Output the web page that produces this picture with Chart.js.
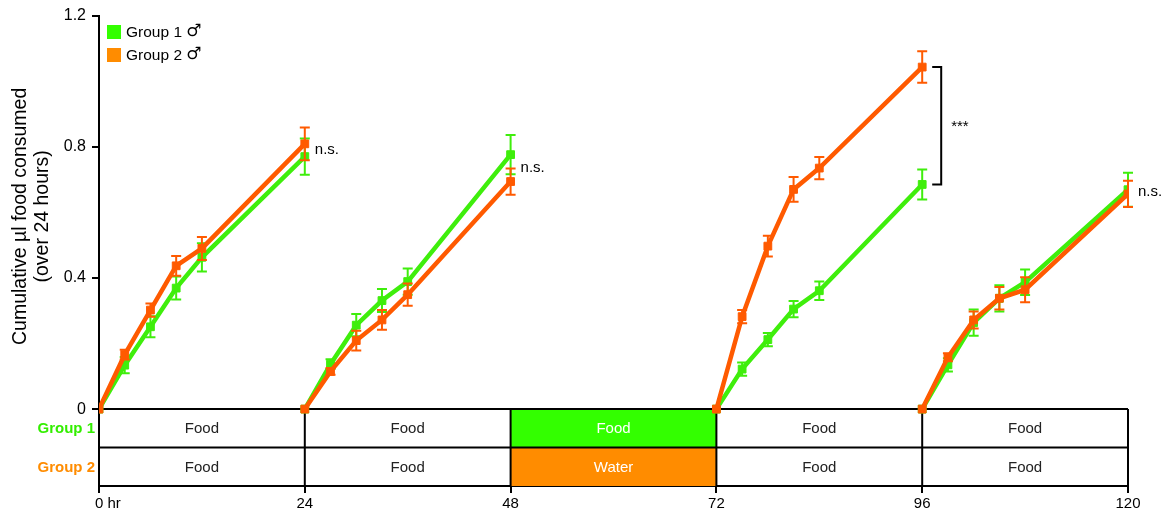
<!DOCTYPE html>
<html>
<head>
<meta charset="utf-8">
<script src="https://cdn.jsdelivr.net/npm/chart.js@4.4.0/dist/chart.umd.min.js"></script>
<style>
  html, body { margin: 0; padding: 0; background: #fff; }
</style>
</head>
<body>
<canvas id="food-chart" width="1168" height="513"></canvas>
<script>
// Sampling times (hours); each 24 h session starts again from 0
const timeHours    = [0, 3, 6, 9, 12, 24,  24, 27, 30, 33, 36, 48,  72, 75, 78, 81, 84, 96,  96, 99, 102, 105, 108, 120];
const sessionStart = [0, 6, 12, 18];

const group1Mean = [0, 0.134, 0.251, 0.369, 0.463, 0.770,  0, 0.137, 0.256, 0.331, 0.389, 0.776,  0, 0.122, 0.212, 0.305, 0.361, 0.685,  0, 0.135, 0.264, 0.338, 0.387, 0.669];
const group1Err  = [0, 0.025, 0.032, 0.035, 0.043, 0.055,  0, 0.015, 0.034, 0.035, 0.040, 0.060,  0, 0.020, 0.020, 0.025, 0.028, 0.046,  0, 0.020, 0.040, 0.040, 0.039, 0.052];
const group2Mean = [0, 0.166, 0.302, 0.437, 0.490, 0.809,  0, 0.115, 0.209, 0.272, 0.349, 0.694,  0, 0.282, 0.497, 0.670, 0.735, 1.043,  0, 0.158, 0.272, 0.338, 0.364, 0.656];
const group2Err  = [0, 0.015, 0.020, 0.030, 0.035, 0.050,  0, 0.010, 0.030, 0.030, 0.034, 0.040,  0, 0.020, 0.032, 0.038, 0.034, 0.048,  0, 0.012, 0.026, 0.034, 0.038, 0.040];

// Diet table under the plot
const tableEdges  = [0, 24, 48, 72, 96, 120];
const group1Diet  = ['Food', 'Food', 'Food', 'Food', 'Food'];
const group2Diet  = ['Food', 'Food', 'Water', 'Food', 'Food'];
const group1Fill  = [null, null, '#33ff00', null, null];
const group2Fill  = [null, null, '#ff8c00', null, null];

// Significance at the end of each session
const sigHours  = [24, 48, 96, 120];
const sigIndex  = [5, 11, 17, 23];
const sigLabels = ['n.s.', 'n.s.', '***', 'n.s.'];

const xTicks = [0, 24, 48, 72, 96, 120];
const yTicks = [0, 0.4, 0.8, 1.2];

const GREEN = '#3fee0c';
const ORANGE = '#ff5a00';
const FONT = "'Liberation Sans', Arial, Helvetica, sans-serif";
Chart.defaults.font.family = FONT;
Chart.defaults.color = '#000';

// insert a null between sessions so lines break
function build(values, extra) {
  const out = [];
  timeHours.forEach((h, i) => {
    if (i > 0 && sessionStart.includes(i)) out.push({ x: h, y: null });
    out.push({ x: h, y: values[i], err: extra[i] });
  });
  return out;
}

const errorBars = {
  id: 'errorBars',
  afterDatasetDraw(chart, args) {
    const { ctx, scales: { y } } = chart;
    const ds = chart.data.datasets[args.index];
    ctx.save();
    ctx.strokeStyle = ds.borderColor;
    ctx.lineWidth = 2;
    args.meta.data.forEach((pt, i) => {
      const d = ds.data[i];
      if (d.y === null || !d.err) return;
      const top = y.getPixelForValue(d.y + d.err);
      const bot = y.getPixelForValue(d.y - d.err);
      ctx.beginPath();
      ctx.moveTo(pt.x, top); ctx.lineTo(pt.x, bot);
      ctx.moveTo(pt.x - 5, top); ctx.lineTo(pt.x + 5, top);
      ctx.moveTo(pt.x - 5, bot); ctx.lineTo(pt.x + 5, bot);
      ctx.stroke();
    });
    ctx.restore();
  }
};

const dietTable = {
  id: 'dietTable',
  beforeDatasetsDraw(chart) {
    const { ctx, chartArea, scales: { x, y } } = chart;
    const top = y.getPixelForValue(0);
    const bottom = chartArea.bottom;
    const mid = (top + bottom) / 2;
    ctx.save();
    for (let i = 0; i < tableEdges.length - 1; i++) {
      const x0 = x.getPixelForValue(tableEdges[i]);
      const x1 = x.getPixelForValue(tableEdges[i + 1]);
      if (group1Fill[i]) { ctx.fillStyle = group1Fill[i]; ctx.fillRect(x0, top, x1 - x0, mid - top); }
      if (group2Fill[i]) { ctx.fillStyle = group2Fill[i]; ctx.fillRect(x0, mid, x1 - x0, bottom - mid); }
      ctx.font = '15px ' + FONT;
      ctx.textAlign = 'center';
      ctx.textBaseline = 'middle';
      ctx.fillStyle = group1Fill[i] ? '#fff' : '#222';
      ctx.fillText(group1Diet[i], (x0 + x1) / 2, (top + mid) / 2 + 1);
      ctx.fillStyle = group2Fill[i] ? '#fff' : '#222';
      ctx.fillText(group2Diet[i], (x0 + x1) / 2, (mid + bottom) / 2 + 1);
    }
    ctx.strokeStyle = '#000';
    ctx.lineWidth = 2;
    ctx.beginPath();
    ctx.moveTo(chartArea.left, top); ctx.lineTo(chartArea.right, top);
    ctx.moveTo(chartArea.left, mid); ctx.lineTo(chartArea.right, mid);
    tableEdges.forEach(h => {
      const px = x.getPixelForValue(h);
      ctx.moveTo(px, top); ctx.lineTo(px, bottom);
    });
    ctx.stroke();

    // row labels
    ctx.font = 'bold 15px ' + FONT;
    ctx.textAlign = 'right';
    ctx.textBaseline = 'middle';
    ctx.fillStyle = '#33ee00';
    ctx.fillText('Group 1', chartArea.left - 4, (top + mid) / 2 + 1);
    ctx.fillStyle = '#ff8c00';
    ctx.fillText('Group 2', chartArea.left - 4, (mid + bottom) / 2 + 1);
    ctx.restore();
  }
};

const extras = {
  id: 'extras',
  afterDraw(chart) {
    const { ctx, chartArea, scales: { x, y } } = chart;
    ctx.save();

    // y axis title, centred on the 0 - 1.2 part
    const yc = (chartArea.top + y.getPixelForValue(0)) / 2 + 4;
    ctx.translate(21, yc);
    ctx.rotate(-Math.PI / 2);
    ctx.font = '19.5px ' + FONT;
    ctx.textAlign = 'center';
    ctx.textBaseline = 'middle';
    ctx.fillStyle = '#000';
    ctx.fillText('Cumulative µl food consumed', 0, 0);
    ctx.fillText('(over 24 hours)', 0, 22);
    ctx.setTransform(1, 0, 0, 1, 0, 0);

    // "0 hr" tick label
    ctx.font = '15px ' + FONT;
    ctx.textAlign = 'left';
    ctx.fillText('0 hr', x.getPixelForValue(0) - 4, chartArea.bottom + 18);

    // legend
    const items = [['Group 1', '#33ff00'], ['Group 2', '#ff8c00']];
    items.forEach(([txt, col], i) => {
      const cy = 32 + i * 23;
      ctx.fillStyle = col;
      ctx.fillRect(chartArea.left + 8, cy - 7, 14, 14);
      ctx.fillStyle = '#000';
      ctx.font = '15.5px ' + FONT;
      ctx.textAlign = 'left';
      ctx.fillText(txt, chartArea.left + 27, cy + 1);
      const w = ctx.measureText(txt + ' ').width;
      ctx.font = '17px "DejaVu Sans", sans-serif';
      ctx.fillText('♂', chartArea.left + 27 + w, cy);
    });

    // significance marks
    ctx.font = '15px ' + FONT;
    sigLabels.forEach((lab, i) => {
      const px = x.getPixelForValue(sigHours[i]);
      const y1 = y.getPixelForValue(group1Mean[sigIndex[i]]);
      const y2 = y.getPixelForValue(group2Mean[sigIndex[i]]);
      if (lab === '***') {
        ctx.strokeStyle = '#000';
        ctx.lineWidth = 2;
        ctx.beginPath();
        ctx.moveTo(px + 10, y2); ctx.lineTo(px + 19, y2);
        ctx.lineTo(px + 19, y1); ctx.lineTo(px + 10, y1);
        ctx.stroke();
        ctx.textAlign = 'left';
        ctx.fillText(lab, px + 29, (y1 + y2) / 2 + 1);
      } else {
        ctx.textAlign = 'left';
        ctx.fillText(lab, px + 10, (y1 + y2) / 2);
      }
    });
    ctx.restore();
  }
};

new Chart(document.getElementById('food-chart'), {
  type: 'line',
  data: {
    datasets: [
      {
        label: 'Group 2 ♂',
        data: build(group2Mean, group2Err),
        borderColor: ORANGE, backgroundColor: ORANGE,
        borderWidth: 4.5, pointStyle: 'rect', pointRadius: 5.5, pointBorderWidth: 1,
        spanGaps: false, order: 0,
      },
      {
        label: 'Group 1 ♂',
        data: build(group1Mean, group1Err),
        borderColor: GREEN, backgroundColor: GREEN,
        borderWidth: 4.5, pointStyle: 'rect', pointRadius: 5.5, pointBorderWidth: 1,
        spanGaps: false, order: 1,
      },
    ],
  },
  options: {
    responsive: false,
    animation: false,
    layout: { padding: { left: 0, right: 40, top: 15, bottom: 0 } },
    plugins: { legend: { display: false }, tooltip: { enabled: false } },
    scales: {
      x: {
        type: 'linear', min: 0, max: 120,
        afterBuildTicks: s => { s.ticks = xTicks.map(v => ({ value: v })); },
        afterFit: s => { s.height = 27; },
        ticks: { callback: v => (v === 0 ? '' : String(v)), font: { size: 15 }, color: '#000', padding: 2, maxRotation: 0, autoSkip: false },
        grid: { drawOnChartArea: false, drawTicks: true, tickLength: 7, color: '#000', lineWidth: 2 },
        border: { display: true, color: '#000', width: 2 },
      },
      y: {
        min: -0.2345, max: 1.2,
        afterBuildTicks: s => { s.ticks = yTicks.map(v => ({ value: v })); },
        afterFit: s => { s.width = 99; },
        ticks: { callback: v => (v === 0 ? '0' : v.toFixed(1)), font: { size: 16 }, color: '#000', padding: 6 },
        grid: { drawOnChartArea: false, drawTicks: true, tickLength: 7, color: '#000', lineWidth: 2 },
        border: { display: true, color: '#000', width: 2 },
      },
    },
  },
  plugins: [dietTable, errorBars, extras],
});
</script>
</body>
</html>
